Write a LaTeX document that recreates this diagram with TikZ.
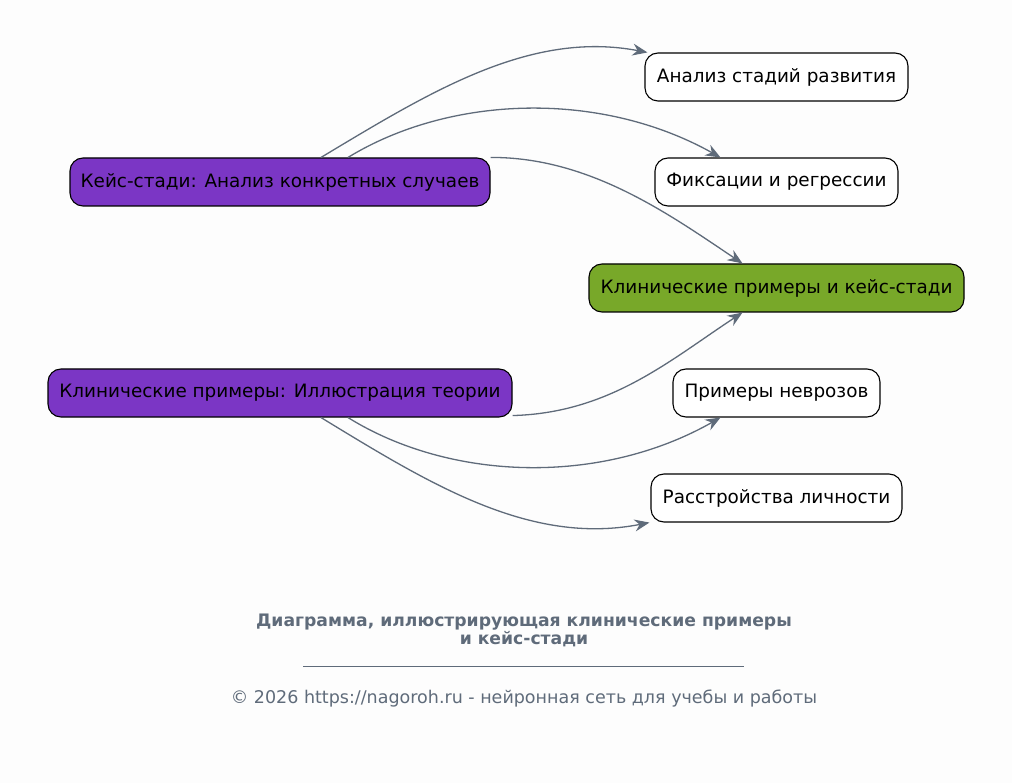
\documentclass[tikz,border=0pt]{standalone}
\usepackage{fontspec}
\setmainfont{DejaVu Sans}
\usetikzlibrary{arrows.meta}

\definecolor{edgegray}{HTML}{5F6B7A}
\definecolor{casepurple}{HTML}{7B36C5}
\definecolor{maingreen}{HTML}{78A829}
\definecolor{paper}{HTML}{FDFDFD}

\tikzset{
  topic/.style={draw=black, line width=1.1pt, fill=white, rounded corners=13pt, minimum height=48pt,
    inner xsep=4pt, font=\fontsize{18.4}{22}\selectfont},
  link/.style={edgegray, line width=1.3pt, -{Stealth[length=15pt,width=12pt,inset=5pt]}},
}

\begin{document}
\begin{tikzpicture}[x=1pt,y=-1pt]
\fill[paper] (0,0) rectangle (1012,783);
\useasboundingbox (0,0) rectangle (1012,783);

\node[topic,minimum width=263pt] (stages) at (776.5,77) {Анализ стадий развития};
\node[topic,minimum width=243pt] (fix) at (776.5,182) {Фиксации и регрессии};
\node[topic,minimum width=375pt,fill=maingreen] (clin) at (776.5,288) {Клинические примеры и кейс-стади};
\node[topic,minimum width=207pt] (neur) at (776.5,393) {Примеры неврозов};
\node[topic,minimum width=251pt] (pers) at (776.5,498) {Расстройства личности};

\node[topic,minimum width=420pt,fill=casepurple] (cases) at (280,182) {Кейс-стади: Анализ конкретных случаев};
\node[topic,minimum width=464pt,fill=casepurple] (illus) at (280,393) {Клинические примеры: Иллюстрация теории};

\draw[link] ([xshift=41pt]cases.north) .. controls (430,92) and (530,30) .. ([xshift=3pt]stages.north west);
\draw[link] ([xshift=68pt]cases.north) .. controls (450,95) and (600,90) .. ([xshift=-56pt]fix.north);
\draw[link] (cases.north east) .. controls (590,157) and (670,215) .. ([xshift=-34pt]clin.north);

\draw[link] ([yshift=2pt]illus.south east) .. controls (610,413) and (670,360) .. ([xshift=-34pt]clin.south);
\draw[link] ([xshift=68pt]illus.south) .. controls (450,481) and (600,486) .. ([xshift=-56pt]neur.south);
\draw[link] ([xshift=41pt]illus.south) .. controls (430,484) and (530,546) .. ([xshift=-1pt]pers.south west);

\node[edgegray,font=\bfseries\fontsize{17.2}{18}\selectfont,align=center] (title) at (524,630)
  {Диаграмма, иллюстрирующая клинические примеры\\и кейс-стади};
\draw[edgegray,line width=0.8pt] (303,666) -- (744,666);
\node[edgegray,font=\fontsize{17.5}{20}\selectfont] (copy) at (524,699)
  {© 2026 https://nagoroh.ru - нейронная сеть для учебы и работы};

\end{tikzpicture}
\end{document}
